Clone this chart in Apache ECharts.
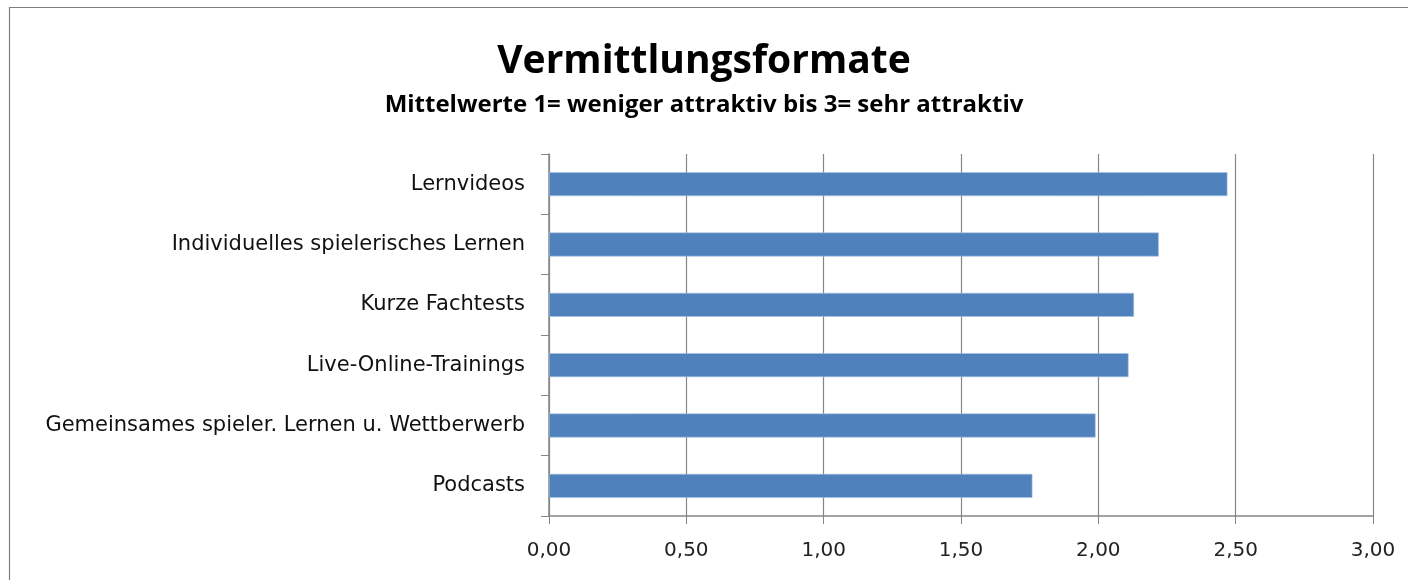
<!DOCTYPE html>
<html><head><meta charset="utf-8">
<script src="https://cdn.jsdelivr.net/npm/echarts@6/dist/echarts.min.js"></script>
<style>html,body{margin:0;padding:0;background:#fff}#c{width:1408px;height:580px}</style>
</head><body><div id="c"></div>
<script>
const categories = ["Podcasts","Gemeinsames spieler. Lernen u. Wettberwerb","Live-Online-Trainings","Kurze Fachtests","Individuelles spielerisches Lernen","Lernvideos"];
const values = [1.76, 1.99, 2.11, 2.13, 2.22, 2.47];
const titleText = "Vermittlungsformate";
const subtitleText = "Mittelwerte 1= weniger attraktiv bis 3= sehr attraktiv";

const chart = echarts.init(document.getElementById('c'));
chart.setOption({
  animation:false,
  graphic:[{type:'rect',shape:{x:9.5,y:7.5,width:1420,height:600},style:{fill:'none',stroke:'#7f7f7f',lineWidth:1.2}}],
  title:{text:titleText,subtext:subtitleText,left:'center',top:37,itemGap:12,
    textStyle:{fontFamily:'Open Sans',fontWeight:'bold',fontSize:39,color:'#000'},
    subtextStyle:{fontFamily:'Open Sans',fontWeight:'bold',fontSize:24,color:'#000'}},
  grid:{left:549,right:35,top:154,bottom:64,containLabel:false},
  xAxis:{type:'value',min:0,max:3,interval:0.5,
    axisLine:{show:true,lineStyle:{color:'#868686',width:1.5}},
    axisTick:{show:true,length:8,lineStyle:{color:'#868686'}},
    splitLine:{show:true,lineStyle:{color:'#868686',width:1.2}},
    axisLabel:{margin:25,fontFamily:'DejaVu Sans',fontSize:20,color:'#222',formatter:v=>v.toFixed(2).replace('.',',')}},
  yAxis:{type:'category',data:categories,
    axisLine:{show:true,lineStyle:{color:'#868686',width:1.5}},
    axisTick:{show:true,length:8,inside:false,lineStyle:{color:'#868686'}},
    axisLabel:{margin:24,fontFamily:'DejaVu Sans',fontSize:21,color:'#111'}},
  series:[{type:'bar',data:values,barWidth:24,
    itemStyle:{color:'#4F81BD',borderColor:'#A9C4E6',borderWidth:0.6}}]
});
</script></body></html>
